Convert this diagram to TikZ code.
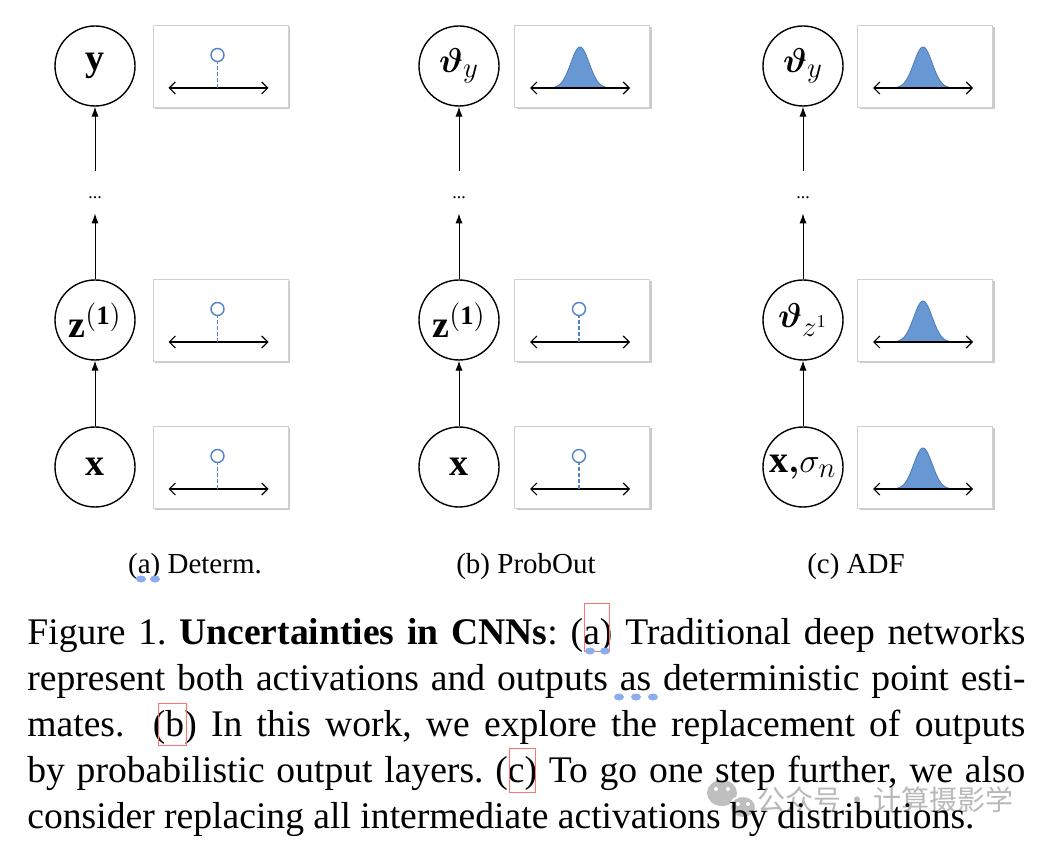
\documentclass[tikz,border=0pt]{standalone}
\usepackage{amsmath}
\usepackage{amssymb}
\usepackage{bm}
\usepackage{fontspec}
\setmainfont{Liberation Serif}
\newfontfamily\cjkfont{Noto Sans CJK SC}
\usetikzlibrary{arrows.meta}
\usetikzlibrary{shadows}
\usetikzlibrary{positioning}
\definecolor{ptblue}{RGB}{84,130,200}
\definecolor{gsfill}{RGB}{103,152,212}
\definecolor{gsedge}{RGB}{78,124,186}
\definecolor{markblue}{RGB}{140,172,240}
\tikzset{unit/.style = {draw, circle, line width = 0.7pt, minimum size = 40pt, inner sep = 0, font = \fontsize{19}{23}\selectfont}}
\tikzset{panel/.style = {draw = black!18, fill = white, line width = 0.4pt, minimum width = 67.5pt, minimum height = 41pt, inner sep = 0,
    drop shadow = {shadow xshift = 1.2pt, shadow yshift = -1.2pt, fill = black!40, opacity = 0.5}}}
\tikzset{flow/.style = {-{Latex[length = 5pt, width = 3.6pt]}, line width = 0.5pt}}
\tikzset{axis/.style = {{Straight Barb[length = 3pt, width = 6pt]}-{Straight Barb[length = 3pt, width = 6pt]}, line width = 0.6pt}}
\tikzset{dots/.style = {inner sep = 0, font = \fontsize{9}{10}\selectfont}}
\tikzset{sublabel/.style = {anchor = base, inner sep = 0, font = \fontsize{14.5}{17}\selectfont}}

\begin{document}
\begin{tikzpicture}[x = 0.5pt, y = -0.5pt]
      \fill [white] (0, 0) rectangle (1044, 844);
      \useasboundingbox (0, 0) rectangle (1044, 844);

      % (a) deterministic
      \node [unit] (xa) at (95, 467) {$\mathbf{x}$};
      \node [unit] (za) at (95, 320) {$\mathbf{z}^{\mathbf{(1)}}$};
      \node [dots] (da) at (95, 198) {...};
      \node [unit] (ya) at (95, 66) {$\mathbf{y}$};
      \node [panel] (pa1) at (220.5, 467) {};
      \node [panel] (pa2) at (220.5, 320) {};
      \node [panel] (pa3) at (220.5, 66) {};

      % (b) probabilistic output
      \node [unit] (xb) at (459, 467) {$\mathbf{x}$};
      \node [unit] (zb) at (459, 320) {$\mathbf{z}^{\mathbf{(1)}}$};
      \node [dots] (db) at (459, 198) {...};
      \node [unit] (yb) at (459, 66) {$\bm{\vartheta}_y$};
      \node [panel] (pb1) at (582, 467) {};
      \node [panel] (pb2) at (582, 320) {};
      \node [panel] (pb3) at (582, 66) {};

      % (c) ADF
      \node [unit] (xc) at (803, 467) {$\mathbf{x}{\bm{,}}\sigma_n$};
      \node [unit] (zc) at (803, 320) {$\bm{\vartheta}_{z^1}$};
      \node [dots] (dc) at (803, 198) {...};
      \node [unit] (yc) at (803, 66) {$\bm{\vartheta}_y$};
      \node [panel] (pc1) at (925, 467) {};
      \node [panel] (pc2) at (925, 320) {};
      \node [panel] (pc3) at (925, 66) {};

      \foreach \c in {a, b, c} {
        \draw [flow] (x\c) -- (z\c);
        \draw [flow, shorten > = 7pt] (z\c) -- (d\c);
        \draw [flow, shorten < = 13pt] (d\c) -- (y\c);
      }

      % point estimates
      \foreach \p in {pa1, pa2, pa3, pb1, pb2} {
        \begin{scope}[shift = {(\p.center)}]
          \draw [axis] (-52, 22) -- (48, 22);
          \draw [ptblue, line width = 0.7pt, dash pattern = on 2pt off 1pt] (-3, 22) -- (-3, -5);
          \draw [ptblue, line width = 0.7pt, fill = white] (-3, -11) circle [radius = 6.5];
        \end{scope}
      }

      % distributions
      \foreach \p in {pb3, pc1, pc2, pc3} {
        \begin{scope}[shift = {(\p.center)}]
          \fill [gsfill] plot [domain = -26:26, samples = 61] ({\x - 2}, {22 - 41*exp(-((\x)*(\x))/170)}) -- cycle;
          \draw [gsedge, line width = 0.4pt] plot [domain = -26:26, samples = 61] ({\x - 2}, {22 - 41*exp(-((\x)*(\x))/170)});
          \draw [axis] (-52, 22) -- (48, 22);
        \end{scope}
      }

      \node [sublabel] (capa) at (195, 573) {(a) Determ.};
      \node [sublabel] (capb) at (526, 573) {(b) ProbOut};
      \node [sublabel] (capc) at (856, 573) {(c) ADF};

      % watermark
      \fill [black!25] (722, 793) ellipse [x radius = 15, y radius = 13];
      \fill [black!25, draw = white, line width = 1pt] (743, 807) ellipse [x radius = 13, y radius = 11];
      \foreach \u/\v in {716/789, 728/789, 738/804, 748/804}
        \fill [white] (\u, \v) circle [radius = 2];
      \node [anchor = west, inner sep = 0, text = black!28, font = \cjkfont\fontsize{14}{16}\selectfont] (mark) at (757, 800)
        {公众号\hspace{1pt}·\hspace{1pt}计算摄影学};

      \node [anchor = north west, inner sep = 0, text width = 499pt, align = justify,
        font = \fontsize{18.8}{23}\selectfont\frenchspacing] (caption) at (27, 618)
        {Figure 1. \textbf{Uncertainties in CNNs}: (a) Traditional deep networks\linebreak
         represent both activations and outputs as deterministic point esti-\linebreak
         mates.\ \ (b) In this work, we explore the replacement of outputs\linebreak
         by probabilistic output layers. (c) To go one step further, we also\linebreak
         consider replacing all intermediate activations by distributions.};

      % viewer marks
      \draw [red!55, line width = 0.4pt] (584, 603) rectangle (609, 651);
      \draw [red!55, line width = 0.4pt] (158, 703) rectangle (186, 745);
      \draw [red!55, line width = 0.4pt] (509, 748) rectangle (535, 792);
      \foreach \u/\v in {141/579, 155/579, 590/651, 605/651, 619/697, 636/697, 653/697}
        \fill [markblue] (\u, \v) ellipse [x radius = 5, y radius = 3.5];
    \end{tikzpicture}
\end{document}
